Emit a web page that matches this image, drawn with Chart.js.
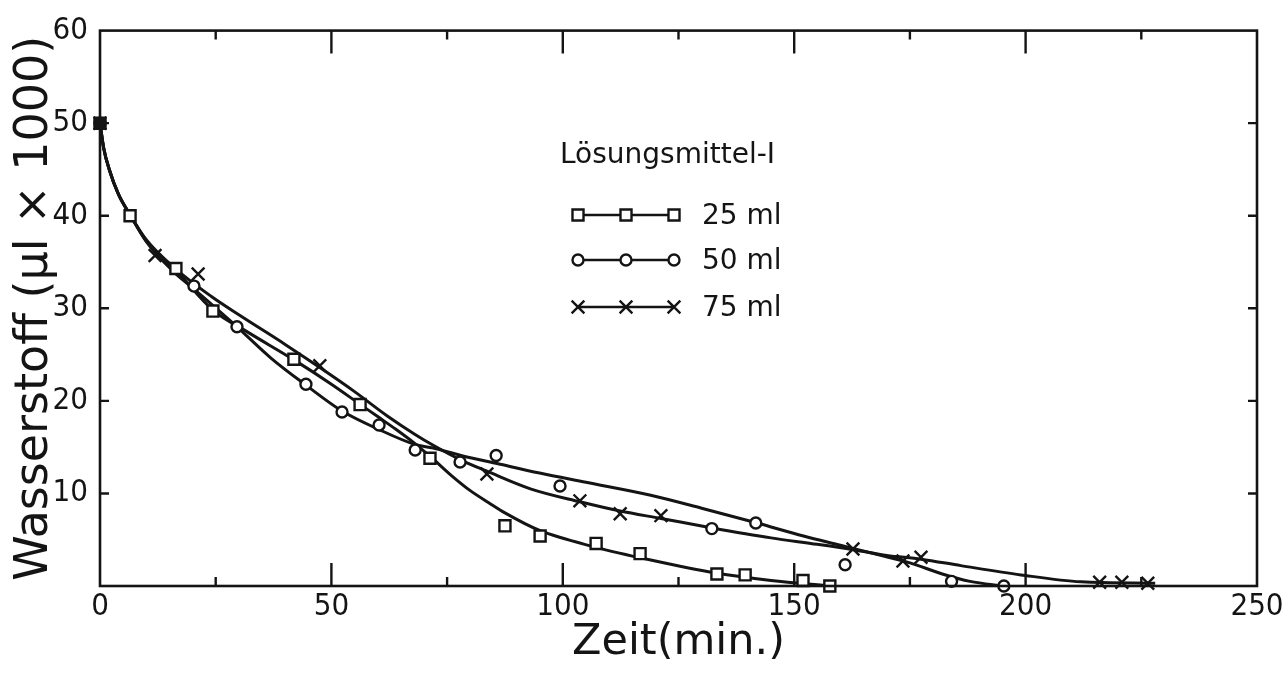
<!DOCTYPE html>
<html>
<head>
<meta charset="utf-8">
<script src="https://cdn.jsdelivr.net/npm/chart.js@4.4.0/dist/chart.umd.min.js"></script>
<style>
  html, body { margin: 0; padding: 0; background: #fff; }
</style>
</head>
<body>
<canvas id="myChart" width="1286" height="678"></canvas>
<script>
// Achsen
const xTicks = [0, 50, 100, 150, 200, 250];
const yTicks = [10, 20, 30, 40, 50, 60];
const xTitle = 'Zeit(min.)';
const yTitle = 'Wasserstoff (µl × 1000)';

// Legende
const legendTitle = 'Lösungsmittel-I';
const labels = ['25 ml', '50 ml', '75 ml'];

// Messpunkte
const zeit25 = [0, 6.5, 16.4, 24.4, 41.9, 56.2, 71.3, 87.5, 95.1, 107.2, 116.7, 133.3, 139.4, 151.9, 157.7];
const wert25 = [50, 40.0, 34.3, 29.7, 24.5, 19.6, 13.8, 6.5, 5.4, 4.6, 3.5, 1.3, 1.2, 0.6, 0];

const zeit50 = [0, 20.3, 29.6, 44.5, 52.3, 60.3, 68.1, 77.8, 85.6, 99.4, 132.2, 141.7, 161, 184, 195.3];
const wert50 = [50, 32.4, 28.0, 21.8, 18.8, 17.4, 14.7, 13.4, 14.1, 10.8, 6.2, 6.8, 2.3, 0.5, 0];

const zeit75 = [0, 11.9, 21.2, 47.5, 83.6, 103.7, 112.4, 121.2, 162.7, 173.5, 177.4, 216, 220.8, 226.4];
const wert75 = [50, 35.7, 33.7, 23.8, 12.1, 9.2, 7.8, 7.6, 4.0, 2.7, 3.1, 0.4, 0.4, 0.3];

// Ausgleichskurven, von Hand gezogen (Stützstellen)
const kurve25X = [0, 0.8, 2, 4, 6.5, 10, 16.4, 24.4, 32, 42, 50, 56, 60, 64, 68, 72, 76, 80, 84, 87.5, 95, 107, 119, 133, 145, 158];
const kurve25Y = [50, 47.3, 45, 42.3, 40.1, 37.3, 34.1, 29.8, 27.4, 24.4, 21.8, 19.7, 18.3, 16.9, 15.4, 13.7, 11.9, 10.3, 9.0, 7.9, 6.0, 4.2, 2.8, 1.4, 0.6, 0];

const kurve50X = [0, 0.8, 2, 4, 6.5, 10, 16, 20, 29.6, 37, 44.5, 52.3, 60.3, 68, 72, 78, 86, 95, 105, 119, 130, 142, 152, 160, 168, 175, 182, 188, 195.3];
const kurve50Y = [50, 47.3, 45, 42.3, 40.1, 37.2, 33.9, 32.2, 28.0, 24.6, 21.7, 18.9, 16.9, 15.3, 14.9, 14.1, 13.2, 12.2, 11.2, 9.8, 8.4, 6.8, 5.4, 4.4, 3.4, 2.5, 1.3, 0.5, 0];

const kurve75X = [0, 0.8, 2, 4, 6.5, 10, 16, 24, 30, 40, 47.5, 55, 62, 68, 72, 78, 83.6, 93, 103.7, 112.4, 121.2, 132, 145, 155, 163, 170, 177.4, 186, 199, 212, 228];
const kurve75Y = [50, 47.3, 45, 42.3, 40.1, 37.4, 34.4, 31.3, 29.3, 26.1, 23.6, 21.0, 18.4, 16.4, 15.2, 13.6, 12.4, 10.5, 9.1, 8.1, 7.3, 6.3, 5.2, 4.5, 3.9, 3.3, 2.9, 2.2, 1.2, 0.45, 0.3];

const ink = '#141414';

function punkte(xs, ys) {
    return xs.map((x, i) => ({ x: x, y: ys[i] }));
}

function markerSet(label, xs, ys, style, radius) {
    return {
        label: label,
        data: punkte(xs, ys),
        showLine: false,
        order: 1,
        clip: false,
        pointStyle: style,
        pointRadius: radius,
        pointBorderWidth: 2.4,
        pointBorderColor: ink,
        pointBackgroundColor: c => c.dataIndex === 0 ? ink : '#fff'
    };
}

function kurveSet(xs, ys) {
    return {
        label: '',
        data: punkte(xs, ys),
        order: 2,
        clip: false,
        borderColor: ink,
        borderWidth: 3,
        pointRadius: 0,
        cubicInterpolationMode: 'monotone',
        fill: false
    };
}

// Rahmen mit nach innen zeigenden Strichen
const rahmen = {
    id: 'rahmen',
    afterDatasetsDraw(chart) {
        const { ctx, chartArea: a, scales: { x, y } } = chart;
        ctx.save();
        ctx.strokeStyle = ink;
        ctx.lineWidth = 2.6;
        ctx.strokeRect(a.left, a.top, a.right - a.left, a.bottom - a.top);
        ctx.lineWidth = 2.4;
        ctx.beginPath();
        for (let v = 25; v < 250; v += 25) {
            const px = x.getPixelForValue(v);
            const len = v % 50 === 0 ? 23 : 9;
            ctx.moveTo(px, a.bottom); ctx.lineTo(px, a.bottom - len);
            ctx.moveTo(px, a.top); ctx.lineTo(px, a.top + len);
        }
        for (let v = 10; v < 60; v += 10) {
            const py = y.getPixelForValue(v);
            ctx.moveTo(a.left, py); ctx.lineTo(a.left + 9, py);
            ctx.moveTo(a.right, py); ctx.lineTo(a.right - 9, py);
        }
        ctx.stroke();
        ctx.restore();
    }
};

// Legende im Diagramm
const legende = {
    id: 'legende',
    afterDraw(chart) {
        const ctx = chart.ctx;
        ctx.save();
        ctx.fillStyle = ink;
        ctx.font = '28px "DejaVu Sans"';
        ctx.textBaseline = 'alphabetic';
        ctx.fillText(legendTitle, 560, 163);
        const rows = [215, 260, 307];
        const xs = [578, 626, 674];
        for (let i = 0; i < 3; i++) {
            const ds = chart.data.datasets[i];
            const yy = rows[i];
            ctx.strokeStyle = ink;
            ctx.lineWidth = 2.4;
            ctx.beginPath();
            ctx.moveTo(xs[0], yy); ctx.lineTo(xs[2], yy);
            ctx.stroke();
            xs.forEach(px => {
                ctx.fillStyle = '#fff';
                ctx.strokeStyle = ink;
                ctx.lineWidth = 2.4;
                Chart.helpers.drawPoint(ctx, {
                    pointStyle: ds.pointStyle,
                    radius: ds.pointRadius,
                    rotation: 0,
                    borderWidth: 2.4
                }, px, yy);
            });
            ctx.fillStyle = ink;
            ctx.font = '28px "DejaVu Sans"';
            ctx.textBaseline = 'middle';
            ctx.fillText(ds.label, 702, yy + 2);
        }
        ctx.restore();
    }
};

Chart.defaults.font.family = '"DejaVu Sans"';
Chart.defaults.color = ink;

const ctx = document.getElementById('myChart').getContext('2d');
const myChart = new Chart(ctx, {
    type: 'line',
    data: {
        datasets: [
            markerSet(labels[0], zeit25, wert25, 'rect', 7.8),
            markerSet(labels[1], zeit50, wert50, 'circle', 5.5),
            markerSet(labels[2], zeit75, wert75, 'crossRot', 9),
            kurveSet(kurve25X, kurve25Y),
            kurveSet(kurve50X, kurve50Y),
            kurveSet(kurve75X, kurve75Y)
        ]
    },
    options: {
        responsive: false,
        animation: false,
        events: [],
        layout: { padding: { top: 27, right: 29, left: 0, bottom: 0 } },
        plugins: {
            legend: { display: false },
            tooltip: { enabled: false }
        },
        scales: {
            x: {
                type: 'linear',
                min: 0,
                max: 250,
                afterFit: s => { s.height = 92; },
                afterBuildTicks: s => { s.ticks = xTicks.map(v => ({ value: v })); },
                grid: { display: false, drawTicks: false },
                border: { display: false },
                ticks: {
                    padding: 2,
                    maxRotation: 0,
                    font: { family: '"DejaVu Sans Condensed"', size: 31 }
                },
                title: {
                    display: true,
                    text: xTitle,
                    font: { size: 43 },
                    padding: { top: 0, bottom: 9 }
                }
            },
            y: {
                min: 0,
                max: 60,
                afterFit: s => { s.width = 100; },
                afterBuildTicks: s => { s.ticks = yTicks.map(v => ({ value: v })); },
                grid: { display: false, drawTicks: false },
                border: { display: false },
                ticks: {
                    padding: 12,
                    font: { family: '"DejaVu Sans Condensed"', size: 31 }
                },
                title: {
                    display: true,
                    text: yTitle,
                    font: { size: 46 },
                    padding: { top: 7, bottom: 0 }
                }
            }
        }
    },
    plugins: [rahmen, legende]
});
</script>
</body>
</html>
